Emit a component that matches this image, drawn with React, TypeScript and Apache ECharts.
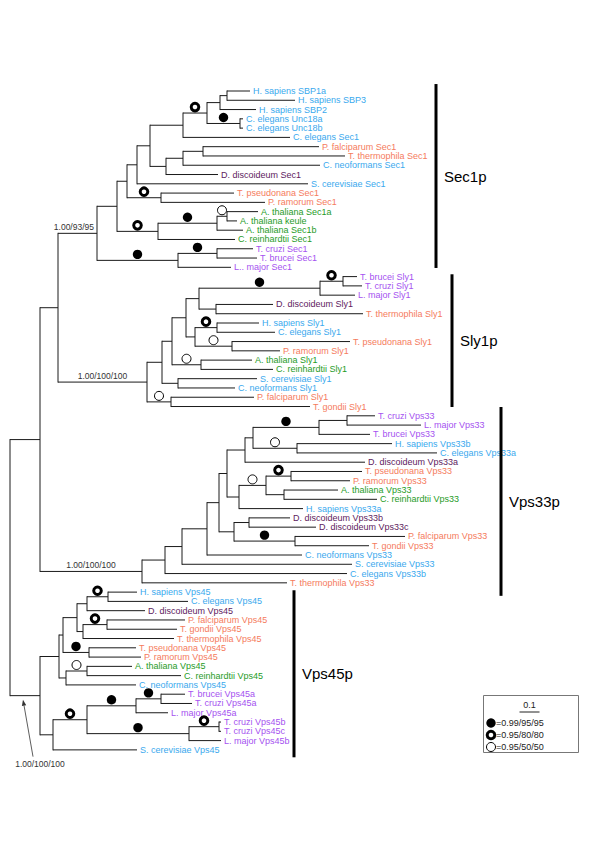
import React, { useEffect, useRef } from "react";
import * as echarts from "echarts";

// ---------------- DATA ----------------
// Newick subtrees; branch lengths in substitutions/site. Internal node labels:
// F = filled circle (0.99/95/95), R = ring (0.95/80/80), O = open circle (0.95/50/50)
const sec1Tree =
  "(((((((((H. sapiens SBP1a:0.115,H. sapiens SBP3:0.340):0.035,H. sapiens SBP2:0.180):0.065,(C. elegans Unc18a:0.015,C. elegans Unc18b:0.015)F:0.165)R:0.120,C. elegans Sec1:0.535):0.165,(((P. falciparum Sec1:0.580,T. thermophila Sec1:0.710):0.100,C. neoformans Sec1:0.685):0.085,D. discoideum Sec1:0.260):0.080):0.065,S. cerevisiae Sec1:0.855):0.050,(T. pseudonana Sec1:0.365,P. ramorum Sec1:0.520)R:0.170):0.050,(((A. thaliana Sec1a:0.155,A. thaliana keule:0.050)O:0.050,A. thaliana Sec1b:0.130)F:0.295,C. reinhardtii Sec1:0.385)R:0.205):0.100,((T. cruzi Sec1:0.180,T. brucei Sec1:0.200)F:0.195,L.. major Sec1:0.265)F:0.405)";

const sly1Tree =
  "(((((((T. brucei Sly1:0.070,T. cruzi Sly1:0.095)R:0.115,L. major Sly1:0.175)F:0.605,(D. discoideum Sly1:0.285,T. thermophila Sly1:0.735):0.085):0.065,((H. sapiens Sly1:0.210,C. elegans Sly1:0.290)R:0.110,(T. pseudonana Sly1:0.590,P. ramorum Sly1:0.240)O:0.185):0.045):0.070,(A. thaliana Sly1:0.255,C. reinhardtii Sly1:0.360)O:0.145):0.050,(S. cerevisiae Sly1:0.395,C. neoformans Sly1:0.285):0.080):0.075,(P. falciparum Sly1:0.415,T. gondii Sly1:0.695)O:0.120)";

const vps33Tree =
  "((((((((((T. cruzi Vps33:0.140,L. major Vps33:0.370):0.140,T. brucei Vps33:0.255)F:0.330,(H. sapiens Vps33b:0.475,C. elegans Vps33a:0.700)O:0.220):0.040,D. discoideum Vps33a:0.600):0.090,(((T. pseudonana Vps33:0.355,P. ramorum Vps33:0.295)R:0.125,(A. thaliana Vps33:0.270,C. reinhardtii Vps33:0.465):0.090)O:0.135,H. sapiens Vps33a:0.320):0.060):0.040,((D. discoideum Vps33b:0.205,D. discoideum Vps33c:0.335):0.075,(P. falciparum Vps33:0.550,T. gondii Vps33:0.370)F:0.305):0.075):0.060,C. neoformans Vps33:0.475):0.125,S. cerevisiae Vps33:0.850):0.085,C. elegans Vps33b:0.910):0.115,T. thermophila Vps33:0.725)";

const vps45Tree =
  "((((((H. sapiens Vps45:0.145,C. elegans Vps45:0.400)R:0.105,D. discoideum Vps45:0.290):0.050,((P. falciparum Vps45:0.390,T. gondii Vps45:0.350)R:0.120,T. thermophila Vps45:0.455):0.030):0.070,(T. pseudonana Vps45:0.235,P. ramorum Vps45:0.260)F:0.130):0.020,((A. thaliana Vps45:0.225,C. reinhardtii Vps45:0.470)O:0.105,C. neoformans Vps45:0.350):0.035):0.095,((((T. brucei Vps45a:0.120,T. cruzi Vps45a:0.155)F:0.125,L. major Vps45a:0.160)F:0.245,((T. cruzi Vps45b:0.010,T. cruzi Vps45c:0.010)R:0.150,L. major Vps45b:0.160)F:0.510)R:0.170,S. cerevisiae Vps45:0.420):0.065)";

const backboneTree = "(((#SEC1B1:0.195,#SLY1B2:0.445):0.090,#VPS33B3:0.510):0.150,#VPS45B4:0.150)";

const branchLabelNodes = ["B1", "B2", "B3", "B4"];
const branchLabelTexts = ["1.00/93/95", "1.00/100/100", "1.00/100/100", "1.00/100/100"];
const branchLabelArrow = [false, false, false, true];

const cladeNames = ["Sec1p", "Sly1p", "Vps33p", "Vps45p"];
const cladeBarX = [2.13, 2.21, 2.455, 1.42];
const cladeBarFrom = [-0.75, 19.75, 34.05, 53.8];
const cladeBarTo = [19.07, 34.05, 54.4, 71.8];

const blueSpecies = ["H. sapiens", "C. elegans", "C. neoformans", "S. cerevisiae"];
const salmonSpecies = ["P. falciparum", "T. thermophila", "T. pseudonana", "P. ramorum", "T. gondii"];
const purpleSpecies = ["D. discoideum"];
const greenSpecies = ["A. thaliana", "C. reinhardtii"];
const violetSpecies = ["T. cruzi", "T. brucei", "L. major", "L.. major"];

const supportKinds = ["F", "R", "O"];
const supportLegendTexts = ["=0.99/95/95", "=0.95/80/80", "=0.95/50/50"];
const scaleBarValue = 0.1;

// ---------------- STYLE ----------------
const FONT = '"Liberation Sans", Arial, Helvetica, sans-serif';
const speciesColors: [string[], string][] = [
  [blueSpecies, "#3aa9ee"],
  [salmonSpecies, "#f57b5d"],
  [purpleSpecies, "#5e1a5e"],
  [greenSpecies, "#1f9c1f"],
  [violetSpecies, "#a552f0"],
];
const LINE = "#1a1a1a";

// ---------------- TREE PARSING / LAYOUT ----------------
type TNode = { name: string; len: number; children: TNode[] };

function parseNewick(s: string): TNode {
  let i = 0;
  const readName = () => {
    const st = i;
    while (i < s.length && !"(),:".includes(s[i])) i++;
    return s.slice(st, i).trim();
  };
  const readLen = () => {
    if (s[i] !== ":") return 0;
    i++;
    const st = i;
    while (i < s.length && !"(),".includes(s[i])) i++;
    return parseFloat(s.slice(st, i));
  };
  const node = (): TNode => {
    const n: TNode = { name: "", len: 0, children: [] };
    if (s[i] === "(") {
      i++;
      n.children.push(node());
      while (s[i] === ",") {
        i++;
        n.children.push(node());
      }
      i++;
    }
    n.name = readName();
    n.len = readLen();
    return n;
  };
  return node();
}

const fullTree = backboneTree
  .replace("#SEC1", sec1Tree)
  .replace("#SLY1", sly1Tree)
  .replace("#VPS33", vps33Tree)
  .replace("#VPS45", vps45Tree);

type Branch = { x0: number; x1: number; y: number; yTop: number | null; yBot: number | null };
const branches: Branch[] = [];
const leaves: { name: string; x: number; y: number }[] = [];
const supports: { kind: string; x0: number; x1: number; y: number }[] = [];
const namedBranches: Record<string, { x0: number; x1: number; y: number }> = {};

let leafCounter = 0;
function layout(n: TNode, parentDepth: number): number {
  const depth = parentDepth + n.len;
  let y: number;
  let yTop: number | null = null;
  let yBot: number | null = null;
  if (n.children.length === 0) {
    y = leafCounter++;
    leaves.push({ name: n.name, x: depth, y });
  } else {
    const ys = n.children.map((c) => layout(c, depth));
    yTop = ys[0];
    yBot = ys[ys.length - 1];
    y = (yTop + yBot) / 2;
    if (supportKinds.includes(n.name)) supports.push({ kind: n.name, x0: parentDepth, x1: depth, y });
    else if (n.name) namedBranches[n.name] = { x0: parentDepth, x1: depth, y };
  }
  branches.push({ x0: parentDepth, x1: depth, y, yTop, yBot });
  return y;
}
layout(parseNewick(fullTree), 0);

function colorOf(name: string): string {
  for (const [list, col] of speciesColors) {
    if (list.some((sp) => name.startsWith(sp + " "))) return col;
  }
  return "#000";
}

// axis ranges (px mapping: root at x=10, 0.1 units = 20px; first leaf at y=91, 9.28px per leaf)
const X_MIN = -0.05;
const X_MAX = 2.95;
const Y_MIN = -91 / 9.28;
const Y_MAX = (848 - 91) / 9.28;

function marker(kind: string, cx: number, cy: number): any {
  if (kind === "F") return { type: "circle", shape: { cx, cy, r: 4.7 }, style: { fill: "#000" } };
  if (kind === "R")
    return { type: "circle", shape: { cx, cy, r: 3.8 }, style: { fill: "#fff", stroke: "#000", lineWidth: 3 } };
  return { type: "circle", shape: { cx, cy, r: 4.5 }, style: { fill: "#fff", stroke: "#000", lineWidth: 1 } };
}

function txt(text: string, x: number, y: number, size: number, fill: string, align = "left", valign = "middle"): any {
  return {
    type: "text",
    style: {
      text,
      x,
      y,
      fill,
      font: `${size}px ${FONT}`,
      align,
      textAlign: align,
      verticalAlign: valign,
      textVerticalAlign: valign,
    },
  };
}

export default function App() {
  const ref = useRef<HTMLDivElement>(null);
  useEffect(() => {
    if (!ref.current) return;
    const chart = echarts.init(ref.current, undefined, { renderer: "svg" });

    const option: any = {
      animation: false,
      backgroundColor: "#fff",
      grid: { left: 0, top: 0, width: 600, height: 848 },
      xAxis: { type: "value", min: X_MIN, max: X_MAX, show: false },
      yAxis: { type: "value", min: Y_MIN, max: Y_MAX, inverse: true, show: false },
      tooltip: { show: false },
      series: [
        {
          type: "custom",
          name: "branches",
          clip: false,
          silent: true,
          data: branches.map((b) => [b.x1, b.y]),
          renderItem: (params: any, api: any) => {
            const b = branches[params.dataIndex];
            const p0 = api.coord([b.x0, b.y]);
            const p1 = api.coord([b.x1, b.y]);
            const children: any[] = [
              {
                type: "line",
                shape: { x1: p0[0], y1: p0[1], x2: p1[0], y2: p1[1] },
                style: { stroke: LINE, lineWidth: 1 },
              },
            ];
            if (b.yTop !== null && b.yBot !== null) {
              const t = api.coord([b.x1, b.yTop]);
              const d = api.coord([b.x1, b.yBot]);
              children.push({
                type: "line",
                shape: { x1: t[0], y1: t[1] - 0.5, x2: d[0], y2: d[1] + 0.5 },
                style: { stroke: LINE, lineWidth: 1 },
              });
            }
            return { type: "group", children };
          },
        },
        {
          type: "custom",
          name: "supports",
          clip: false,
          silent: true,
          data: supports.map((s) => [s.x1, s.y]),
          renderItem: (params: any, api: any) => {
            const s = supports[params.dataIndex];
            const p = api.coord([(s.x0 + s.x1) / 2, s.y]);
            return marker(s.kind, p[0], p[1] - 6);
          },
        },
        {
          type: "custom",
          name: "leaves",
          clip: false,
          silent: true,
          data: leaves.map((l) => [l.x, l.y]),
          renderItem: (params: any, api: any) => {
            const l = leaves[params.dataIndex];
            const p = api.coord([l.x, l.y]);
            return txt(l.name, p[0] + 3, p[1], 9, colorOf(l.name));
          },
        },
        {
          type: "custom",
          name: "branchLabels",
          clip: false,
          silent: true,
          data: branchLabelNodes.map((n) => [namedBranches[n].x1, namedBranches[n].y]),
          renderItem: (params: any, api: any) => {
            const i = params.dataIndex;
            const b = namedBranches[branchLabelNodes[i]];
            const p0 = api.coord([b.x0, b.y]);
            const p1 = api.coord([b.x1, b.y]);
            const text = branchLabelTexts[i];
            const mid = (p0[0] + p1[0]) / 2;
            if (branchLabelArrow[i]) {
              const tail = [mid + 8, p0[1] + 61];
              const tip = [mid - 2, p0[1] + 4];
              const dx = tip[0] - tail[0];
              const dy = tip[1] - tail[1];
              const L = Math.hypot(dx, dy);
              const ux = dx / L;
              const uy = dy / L;
              const hl = 6;
              const hw = 2.2;
              const base = [tip[0] - ux * hl, tip[1] - uy * hl];
              return {
                type: "group",
                children: [
                  txt(text, mid + 15, p0[1] + 68, 8.5, "#333", "center"),
                  {
                    type: "line",
                    shape: { x1: tail[0], y1: tail[1], x2: base[0], y2: base[1] },
                    style: { stroke: "#333", lineWidth: 0.8 },
                  },
                  {
                    type: "polygon",
                    shape: {
                      points: [
                        tip,
                        [base[0] - uy * hw, base[1] + ux * hw],
                        [base[0] + uy * hw, base[1] - ux * hw],
                      ],
                    },
                    style: { fill: "#333" },
                  },
                ],
              };
            }
            const w = p1[0] - p0[0];
            if (w < 45) return txt(text, p1[0] - 3, p0[1] - 6, 8.5, "#333", "right");
            return txt(text, mid, p0[1] - 6, 8.5, "#333", "center");
          },
        },
        {
          type: "custom",
          name: "clades",
          clip: false,
          silent: true,
          data: cladeNames.map((_, i) => [cladeBarX[i], cladeBarFrom[i]]),
          renderItem: (params: any, api: any) => {
            const i = params.dataIndex;
            const a = api.coord([cladeBarX[i], cladeBarFrom[i]]);
            const b = api.coord([cladeBarX[i], cladeBarTo[i]]);
            return {
              type: "group",
              children: [
                { type: "line", shape: { x1: a[0], y1: a[1], x2: b[0], y2: b[1] }, style: { stroke: "#000", lineWidth: 3 } },
                txt(cladeNames[i], a[0] + 8, (a[1] + b[1]) / 2, 15, "#000"),
              ],
            };
          },
        },
        {
          type: "custom",
          name: "legend",
          clip: false,
          silent: true,
          data: [[0, 0]],
          renderItem: (params: any, api: any) => {
            const len = api.size([scaleBarValue, 0])[0];
            const bx = 483;
            const by = 695;
            const bw = 95;
            const bh = 57;
            const cx = bx + bw / 2 - 1;
            const children: any[] = [
              { type: "rect", shape: { x: bx + 0.5, y: by + 0.5, width: bw, height: bh }, style: { fill: "#fff", stroke: "#777", lineWidth: 1 } },
              txt(String(scaleBarValue), cx, by + 10, 9, "#222", "center"),
              { type: "line", shape: { x1: cx - len / 2, y1: by + 17, x2: cx + len / 2, y2: by + 17 }, style: { stroke: "#222", lineWidth: 1 } },
            ];
            supportKinds.forEach((k, j) => {
              const yy = by + 28 + j * 12;
              children.push(marker(k, bx + 8, yy));
              children.push(txt(supportLegendTexts[j], bx + 13, yy, 9, "#222"));
            });
            return { type: "group", children };
          },
        },
      ],
    };
    chart.setOption(option);
    return () => chart.dispose();
  }, []);
  return (
    <div
      ref={ref}
      style={{ position: "absolute", left: 0, top: 0, width: 600, height: 848, background: "#fff" }}
    />
  );
}
